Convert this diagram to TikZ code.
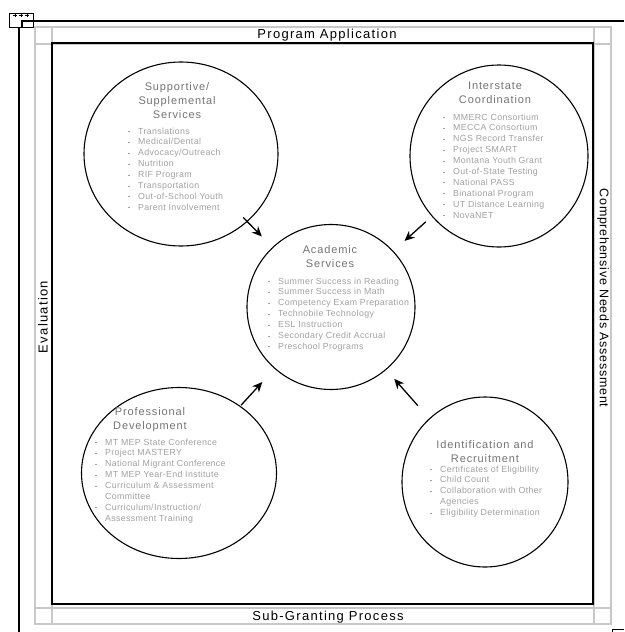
\documentclass[tikz,border=0pt]{standalone}
\usepackage{fontspec}
\setmainfont{Liberation Sans}
\usetikzlibrary{positioning,arrows.meta,shapes.geometric}
\definecolor{bandgray}{RGB}{200,200,200}
\definecolor{headgray}{RGB}{115,115,115}
\definecolor{itemgray}{RGB}{160,160,160}
\newcommand\itm{\makebox[10pt][l]{\rule[2pt]{2.2pt}{1pt}}}
\newcommand\cont{\hspace*{10pt}}

\begin{document}
\begin{tikzpicture}[x=1pt, y=-1pt, >={Stealth[length=10pt,width=9pt]},
		bubble/.style={ellipse, draw, line width=1.1pt, inner sep=0pt},
		head/.style={align=center, text=headgray, inner sep=0pt, font=\fontsize{11}{14}\selectfont\addfontfeature{LetterSpace=8}},
		items/.style={align=left, text=itemgray, inner sep=0pt, anchor=north west, font=\fontsize{8.8}{10.9}\selectfont\addfontfeature{LetterSpace=4}},
		band/.style={inner sep=0pt, font=\fontsize{13}{14}\selectfont\addfontfeature{LetterSpace=10}},
		feed/.style={->, line width=1.3pt}]

	\useasboundingbox (0,0) rectangle (624,632);

	% frame anchor marks
	\draw[line width=1pt] (9,13) rectangle (33,27);
	\draw[line width=0.8pt] (13,15) -- (17,15) (15,13) -- (15,17)
		(19,15) -- (23,15) (21,13) -- (21,17)
		(25,15) -- (29,15) (27,13) -- (27,17);
	\draw[line width=1.2pt] (22,27) -- (22,21) -- (624,21);
	\draw[line width=1.2pt] (19,27) -- (19,632);
	\draw[line width=0.8pt] (612,632) -- (612,629) -- (624,629);

	% bands
	\draw[bandgray, line width=1.2pt] (35,27) rectangle (611,624);
	\draw[bandgray, line width=1.2pt] (35,44) -- (611,44) (35,608) -- (611,608)
		(52,27) -- (52,624) (594,27) -- (594,624);
	\draw[line width=1.5pt] (52,43) rectangle (593,604);

	\node[band] (PA) at (327,35) {Program Application};
	\node[band] (SG) at (328,617) {Sub-Granting Process};
	\node[band, rotate=90] (EV) at (43,317) {Evaluation};
	\node[band, rotate=-90, font=\fontsize{12.5}{14}\selectfont\addfontfeature{LetterSpace=6}] (CN) at (603,298) {Comprehensive Needs Assessment};

	% circles
	\node[bubble, minimum width=194pt, minimum height=184pt] (S) at (181,154) {};
	\node[bubble, minimum width=178pt, minimum height=182pt] (I) at (499,156) {};
	\node[bubble, minimum width=168pt, minimum height=165pt] (A) at (331,307) {};
	\node[bubble, minimum width=195pt, minimum height=171pt] (P) at (179,473) {};
	\node[bubble, minimum width=166pt, minimum height=170pt] (R) at (485,482) {};

	% supportive
	\node[head] (St) at (177,101) {Supportive/\\Supplemental\\Services};
	\node[items] (Sl) at (128,127.5) {\itm Translations\\ \itm Medical/Dental\\ \itm Advocacy/Outreach\\
		\itm Nutrition\\ \itm RIF Program\\ \itm Transportation\\ \itm Out-of-School Youth\\ \itm Parent Involvement};

	% interstate
	\node[head] (It) at (495,93) {Interstate\\Coordination};
	\node[items] (Il) at (443,113.5) {\itm MMERC Consortium\\ \itm MECCA Consortium\\ \itm NGS Record Transfer\\
		\itm Project SMART\\ \itm Montana Youth Grant\\ \itm Out-of-State Testing\\ \itm National PASS\\
		\itm Binational Program\\ \itm UT Distance Learning\\ \itm NovaNET};

	% academic
	\node[head] (At) at (330,256.5) {Academic\\Services};
	\node[items] (Al) at (268,277.5) {\itm Summer Success in Reading\\ \itm Summer Success in Math\\
		\itm Competency Exam Preparation\\ \itm Technobile Technology\\ \itm ESL Instruction\\
		\itm Secondary Credit Accrual\\ \itm Preschool Programs};

	% professional
	\node[head] (Pt) at (150,419.5) {Professional\\Development};
	\node[items] (Pl) at (95,438.5) {\itm MT MEP State Conference\\ \itm Project MASTERY\\
		\itm National Migrant Conference\\ \itm MT MEP Year-End Institute\\
		\itm Curriculum \& Assessment\\ \cont Committee\\ \itm Curriculum/Instruction/\\ \cont Assessment Training};

	% identification
	\node[head] (Rt) at (485,451.5) {Identification and\\Recruitment};
	\node[items] (Rl) at (430,465.5) {\itm Certificates of Eligibility\\ \itm Child Count\\
		\itm Collaboration with Other\\ \cont Agencies\\ \itm Eligibility Determination};

	% arrows
	\draw[feed, shorten <=-6pt, shorten >=15pt] (S) -- (A);
	\draw[feed, shorten <=8pt, shorten >=15pt] (I) -- (A);
	\draw[feed, shorten <=1pt, shorten >=18pt] (P) -- (A);
	\draw[feed, shorten <=17pt, shorten >=12pt] (R) -- (A);

\end{tikzpicture}
\end{document}
